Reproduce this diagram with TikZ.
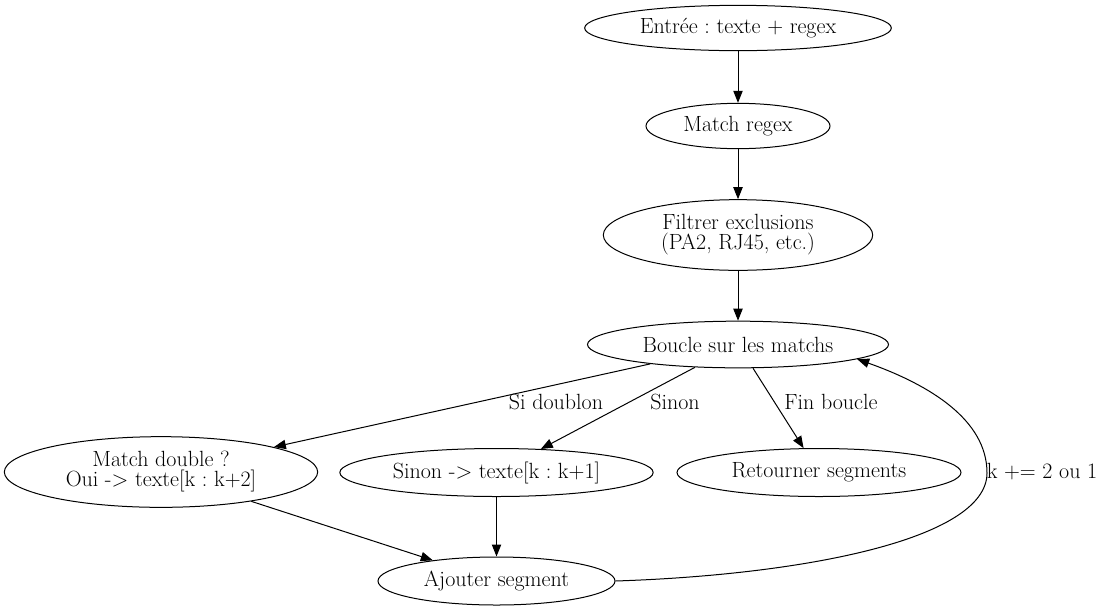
\documentclass[tikz,border=0pt]{standalone}
\usepackage{tikz}
\usetikzlibrary{shapes.geometric, arrows.meta}
\frenchspacing

\begin{document}
\begin{tikzpicture}[x=0.75pt, y=-0.75pt,
		etape/.style={draw, ellipse, inner sep=0pt, line width=0.75pt, align=center,
			font=\fontsize{16.5}{15}\selectfont},
		etiq/.style={font=\fontsize{16.5}{15}\selectfont, inner sep=0pt},
		fleche/.style={line width=0.75pt, -{Triangle[length=9pt, width=7pt]}}]
		\useasboundingbox (0,0) rectangle (1106,611);
		% noeuds du haut
		\node[etape, minimum width=230pt, minimum height=34pt] (entree) at (738,28) {Entrée : texte + regex};
		\node[etape, minimum width=138pt, minimum height=34pt] (match) at (738,126) {Match regex};
		\node[etape, minimum width=202pt, minimum height=53pt] (filtre) at (738,235) {Filtrer exclusions\\(PA2, RJ45, etc.)};
		\node[etape, minimum width=225.75pt, minimum height=35pt] (boucle) at (738,344.5) {Boucle sur les matchs};
		% branches
		\node[etape, minimum width=235pt, minimum height=53pt] (double) at (161,472) {Match double ?\\Oui -> texte[k : k+2]};
		\node[etape, minimum width=235pt, minimum height=36pt] (sinon) at (496.5,472.5) {Sinon -> texte[k : k+1]};
		\node[etape, minimum width=213pt, minimum height=36pt] (retour) at (819,472.5) {Retourner segments};
		\node[etape, minimum width=177.75pt, minimum height=36pt] (ajout) at (496.5,581) {Ajouter segment};
		\coordinate (virage) at (987,473);

		\draw[fleche] (entree) -- (match);
		\draw[fleche] (match) -- (filtre);
		\draw[fleche] (filtre) -- (boucle);
		\draw[fleche] (boucle) -- (double);
		\draw[fleche] (boucle) -- (sinon);
		\draw[fleche] (boucle) -- (retour);
		\draw[fleche] (double) -- (ajout);
		\draw[fleche] (sinon) -- (ajout);
		\draw[fleche] (ajout.east) .. controls (800,575) and (987,540) .. (virage)
			.. controls (987,420) and (930,385) .. (boucle.-7);

		\node[etiq] (lsi) at (556,402) {Si doublon};
		\node[etiq] (lsinon) at (675,402) {Sinon};
		\node[etiq] (lfin) at (831,402) {Fin boucle};
		\node[etiq] (lk) at (1042,472) {k += 2 ou 1};
	\end{tikzpicture}
\end{document}
